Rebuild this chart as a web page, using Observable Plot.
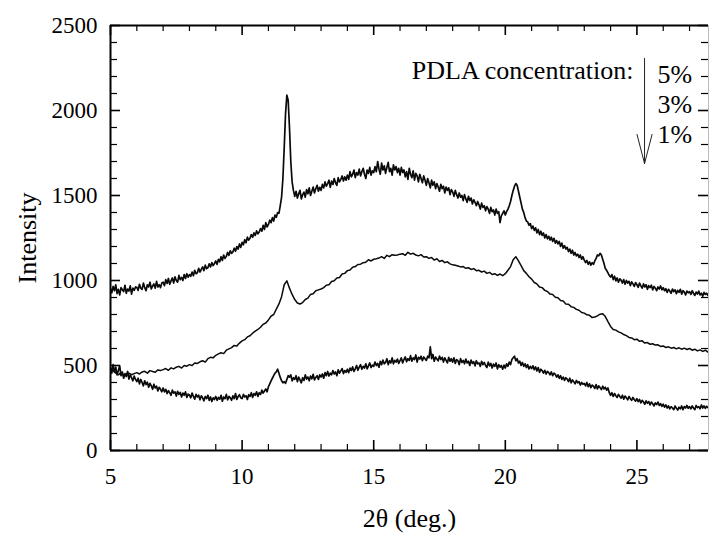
<!DOCTYPE html>
<html>
<head>
<meta charset="utf-8">
<script src="https://cdn.jsdelivr.net/npm/d3@7"></script>
<script src="https://cdn.jsdelivr.net/npm/@observablehq/plot@0.6"></script>
<style>
  html, body { margin: 0; padding: 0; background: #fff; }
  #chart { width: 709px; height: 534px; }
  #chart svg, #chart svg text { font-family: "Liberation Serif", "Times New Roman", "DejaVu Serif", serif !important; }
</style>
</head>
<body>
<div id="chart"></div>
<script>
// 2θ scans start at 5.0°
const scanStart = 5.0;

// PDLA 5% (step 0.05°)
const pdla5 = [
  952, 928, 965, 940, 975, 923, 948, 915, 958, 946, 935, 972, 925, 950, 938, 968, 920, 955, 942, 962,
  960, 942, 978, 955, 948, 985, 958, 940, 975, 962, 990, 950, 968, 980, 955, 995, 962, 975, 958, 985,
  990, 970, 1005, 982, 1012, 978, 998, 1015, 985, 1022, 1000, 990, 1030, 1005, 1018, 1000, 1035, 1012, 1040, 1020,
  1035, 1025, 1050, 1028, 1060, 1040, 1045, 1072, 1050, 1065, 1080, 1058, 1090, 1070, 1075, 1098, 1080, 1105, 1088, 1100,
  1115, 1095, 1125, 1110, 1140, 1118, 1150, 1130, 1142, 1165, 1148, 1175, 1160, 1168, 1190, 1172, 1200, 1185, 1215, 1195,
  1225, 1210, 1240, 1222, 1255, 1238, 1248, 1270, 1255, 1280, 1265, 1292, 1275, 1285, 1305, 1290, 1325, 1300, 1340, 1315,
  1330, 1355, 1340, 1370, 1350, 1385, 1372, 1400, 1395, 1440, 1490, 1600, 1780, 1980, 2090, 2060, 1900, 1700, 1580, 1530,
  1495, 1525, 1485, 1510, 1530, 1480, 1505, 1520, 1490, 1535, 1510, 1545, 1500, 1525, 1550, 1515, 1540, 1560, 1525, 1548,
  1530, 1565, 1545, 1580, 1555, 1570, 1590, 1548, 1585, 1565, 1600, 1575, 1560, 1605, 1580, 1595, 1615, 1585, 1610, 1590,
  1620, 1595, 1640, 1610, 1625, 1650, 1605, 1635, 1620, 1655, 1615, 1640, 1660, 1625, 1600, 1650, 1630, 1665, 1620, 1645,
  1635, 1670, 1640, 1700, 1655, 1625, 1690, 1650, 1675, 1630, 1665, 1695, 1640, 1660, 1620, 1680, 1650, 1670, 1635, 1660,
  1620, 1665, 1635, 1650, 1610, 1640, 1595, 1660, 1625, 1605, 1645, 1590, 1630, 1615, 1580, 1625, 1600, 1575, 1615, 1590,
  1560, 1600, 1575, 1545, 1590, 1560, 1580, 1540, 1570, 1550, 1525, 1565, 1540, 1555, 1515, 1550, 1530, 1545, 1505, 1535,
  1520, 1495, 1530, 1505, 1485, 1515, 1490, 1500, 1470, 1505, 1480, 1460, 1495, 1470, 1485, 1450, 1475, 1460, 1440, 1465,
  1445, 1420, 1455, 1430, 1440, 1410, 1435, 1420, 1395, 1430, 1405, 1415, 1385, 1420, 1395, 1405, 1340, 1380, 1395, 1410,
  1385, 1405, 1420, 1440, 1465, 1500, 1530, 1555, 1570, 1560, 1525, 1490, 1455, 1420, 1400, 1370, 1350, 1345, 1325, 1335,
  1305, 1320, 1295, 1310, 1280, 1300, 1270, 1290, 1265, 1280, 1250, 1270, 1245, 1260, 1238, 1255, 1230, 1248, 1220, 1235,
  1215, 1230, 1200, 1220, 1190, 1205, 1185, 1195, 1170, 1185, 1160, 1178, 1150, 1165, 1145, 1155, 1135, 1150, 1125, 1140,
  1120, 1105, 1118, 1095, 1110, 1090, 1105, 1095, 1115, 1130, 1150, 1145, 1160, 1150, 1125, 1100, 1070, 1060, 1045, 1030,
  1020, 1035, 1005, 1025, 998, 1015, 990, 1010, 1002, 985, 1005, 978, 1000, 985, 995, 970, 992, 980, 965, 988,
  975, 960, 985, 968, 955, 980, 962, 975, 948, 970, 958, 972, 945, 965, 955, 940, 962, 950, 968, 945,
  958, 940, 952, 930, 948, 938, 925, 950, 935, 945, 922, 942, 930, 948, 920, 940, 932, 915, 938, 928,
  935, 918, 940, 925, 912, 932, 920, 938, 915, 925, 908, 930, 918, 925, 912
];

// PDLA 3% (step 0.1°)
const pdla3 = [
  488, 470, 455, 445, 458, 442, 450, 455, 446, 452,
  458, 450, 462, 466, 455, 470, 465, 460, 474, 470,
  476, 482, 472, 486, 480, 490, 495, 485, 500, 496,
  505, 500, 515, 512, 522, 528, 520, 540, 548, 545,
  560, 568, 575, 570, 590, 598, 605, 618, 615, 632,
  645, 652, 668, 675, 690, 702, 712, 725, 742, 750,
  768, 790, 800, 832, 862, 905, 975, 998, 955, 918,
  888, 868, 862, 870, 888, 896, 918, 922, 940, 945,
  950, 958, 972, 975, 994, 998, 1015, 1018, 1038, 1042,
  1058, 1062, 1078, 1082, 1094, 1096, 1105, 1108, 1122, 1115,
  1125, 1128, 1132, 1140, 1130, 1148, 1140, 1152, 1148, 1150,
  1155, 1158, 1148, 1166, 1155, 1160, 1150, 1145, 1152, 1138,
  1140, 1130, 1135, 1120, 1128, 1112, 1118, 1105, 1110, 1098,
  1092, 1090, 1085, 1080, 1082, 1072, 1075, 1065, 1070, 1058,
  1060, 1050, 1055, 1042, 1048, 1035, 1040, 1030, 1038, 1028,
  1040, 1060, 1082, 1122, 1140, 1115, 1088, 1058, 1042, 1022,
  1008, 988, 980, 962, 958, 942, 935, 920, 918, 902,
  898, 882, 880, 862, 860, 846, 842, 830, 825, 812,
  808, 798, 795, 782, 785, 792, 802, 805, 788, 758,
  730, 712, 708, 698, 692, 682, 676, 665, 662, 652,
  655, 642, 645, 632, 635, 625, 628, 620, 622, 612,
  615, 606, 610, 602, 606, 598, 604, 596, 602, 594,
  600, 590, 596, 586, 592, 583, 590, 578
];

// PDLA 1% (step 0.05°)
const pdla1 = [
  480, 455, 505, 462, 490, 445, 470, 498, 440, 462, 425, 452, 435, 465, 420, 445, 428, 410, 438, 418,
  405, 425, 392, 418, 400, 380, 410, 388, 402, 372, 395, 380, 360, 390, 368, 378, 350, 372, 360, 345,
  368, 345, 360, 335, 352, 340, 325, 355, 338, 345, 320, 348, 330, 342, 315, 338, 325, 345, 312, 332,
  325, 310, 338, 318, 302, 330, 315, 325, 298, 322, 310, 292, 318, 305, 325, 295, 315, 288, 310, 300,
  318, 295, 312, 302, 325, 290, 315, 305, 330, 298, 318, 310, 295, 322, 305, 335, 300, 318, 328, 310,
  305, 330, 315, 322, 300, 328, 318, 340, 312, 335, 325, 345, 318, 340, 330, 355, 338, 350, 362, 345,
  375, 392, 410, 425, 440, 455, 462, 478, 455, 430, 410, 398, 405, 395, 418, 440, 432, 445, 410, 428,
  418, 440, 405, 432, 415, 398, 428, 412, 445, 420, 432, 410, 438, 422, 448, 415, 430, 440, 418, 445,
  432, 450, 425, 458, 440, 465, 438, 455, 445, 470, 450, 462, 440, 475, 455, 468, 482, 452, 470, 460,
  478, 458, 485, 470, 492, 465, 480, 500, 472, 490, 505, 478, 495, 485, 510, 480, 498, 515, 488, 502,
  495, 520, 500, 512, 490, 525, 505, 532, 510, 518, 540, 505, 528, 515, 545, 510, 530, 520, 538, 512,
  528, 545, 515, 535, 550, 522, 540, 530, 558, 525, 545, 535, 562, 520, 548, 538, 555, 528, 550, 540,
  530, 555, 545, 610, 540, 565, 525, 550, 538, 528, 555, 535, 548, 520, 545, 530, 515, 548, 525, 540,
  520, 545, 512, 535, 528, 505, 540, 518, 530, 510, 538, 515, 525, 500, 532, 512, 522, 498, 528, 510,
  515, 495, 525, 505, 518, 500, 488, 520, 498, 512, 485, 508, 495, 515, 480, 505, 490, 500, 478, 502,
  485, 510, 495, 520, 505, 535, 545, 555, 528, 540, 515, 525, 500, 518, 495, 510, 488, 505, 480, 495,
  482, 498, 475, 492, 468, 488, 460, 478, 470, 455, 472, 450, 465, 458, 445, 462, 440, 455, 448, 432,
  445, 425, 440, 418, 432, 412, 428, 420, 405, 425, 398, 415, 405, 392, 412, 398, 405, 385, 400, 390,
  395, 380, 400, 375, 392, 370, 385, 378, 365, 388, 362, 380, 370, 358, 378, 362, 372, 355, 368, 340,
  325, 340, 318, 335, 322, 312, 330, 318, 308, 325, 302, 320, 310, 298, 318, 305, 295, 312, 300, 290,
  305, 288, 300, 280, 295, 285, 272, 292, 278, 288, 268, 285, 275, 262, 280, 270, 285, 265, 275, 260,
  272, 255, 268, 250, 262, 245, 258, 250, 240, 262, 248, 238, 255, 245, 262, 240, 258, 250, 265, 248,
  258, 245, 262, 250, 240, 265, 252, 258, 245, 268, 250, 262, 248, 260, 252
];

const xMajor = [5, 10, 15, 20, 25];
const xMinor = [6, 7, 8, 9, 11, 12, 13, 14, 16, 17, 18, 19, 21, 22, 23, 24, 26, 27];
const yMajor = [0, 500, 1000, 1500, 2000, 2500];
const yMinor = [100, 200, 300, 400, 600, 700, 800, 900, 1100, 1200, 1300, 1400,
                1600, 1700, 1800, 1900, 2100, 2200, 2300, 2400];

const legendTitle = ["PDLA concentration:"];
const legendItems = ["5%", "3%", "1%"];
const xLabel = ["2θ (deg.)"];
const yLabel = ["Intensity"];

const seriesList = [
  {name: "5%", step: 0.05, values: pdla5},
  {name: "3%", step: 0.1, values: pdla3},
  {name: "1%", step: 0.05, values: pdla1}
];
const rows = [];
for (const s of seriesList) {
  s.values.forEach((v, i) => rows.push({series: s.name, x: +(scanStart + i * s.step).toFixed(3), y: v}));
}

const xMax = 27.72;
const W = 709, H = 534, mL = 110, mR = 1, mT = 25, mB = 84;
const plotW = W - mL - mR, plotH = H - mT - mB;
const majorLen = 10, minorLen = 6;

const chart = Plot.plot({
  width: W,
  height: H,
  marginLeft: mL,
  marginRight: mR,
  marginTop: mT,
  marginBottom: mB,
  style: {background: "#fff", color: "#000"},
  x: {domain: [5, xMax], axis: null},
  y: {domain: [0, 2500], axis: null},
  marks: [
    // data
    Plot.line(rows.filter(d => d.series !== "3%"), {x: "x", y: "y", z: "series", stroke: "#0a0a0a", strokeWidth: 1.7, clip: true}),
    Plot.line(rows.filter(d => d.series === "3%"), {x: "x", y: "y", stroke: "#0a0a0a", strokeWidth: 1.5, clip: true}),
    // inward ticks: bottom, top, left, right
    Plot.tickX(xMajor, {x: d => d, insetTop: plotH - majorLen, stroke: "#000", strokeWidth: 1.6}),
    Plot.tickX(xMinor, {x: d => d, insetTop: plotH - minorLen, stroke: "#000", strokeWidth: 1.2}),
    Plot.tickX(xMajor, {x: d => d, insetBottom: plotH - majorLen, stroke: "#000", strokeWidth: 1.6}),
    Plot.tickX(xMinor, {x: d => d, insetBottom: plotH - minorLen, stroke: "#000", strokeWidth: 1.2}),
    Plot.tickY(yMajor, {y: d => d, insetRight: plotW - majorLen, stroke: "#000", strokeWidth: 1.6}),
    Plot.tickY(yMinor, {y: d => d, insetRight: plotW - minorLen - 1, stroke: "#000", strokeWidth: 1.2}),
    Plot.tickY(yMajor, {y: d => d, insetLeft: plotW - majorLen, stroke: "#000", strokeWidth: 1.6}),
    Plot.tickY(yMinor, {y: d => d, insetLeft: plotW - minorLen - 1, stroke: "#000", strokeWidth: 1.2}),
    // tick labels
    Plot.axisX(xMajor, {anchor: "bottom", tickSize: 0, tickPadding: 17, fontSize: 23, label: null, tickFormat: d => String(d)}),
    Plot.axisY(yMajor, {anchor: "left", tickSize: 0, tickPadding: 13, fontSize: 23, label: null, tickFormat: d => String(d)}),
    // frame lines
    Plot.ruleY([0, 2500], {stroke: "#000", strokeWidth: 2}),
    Plot.ruleX([5], {stroke: "#000", strokeWidth: 2}),
    Plot.ruleX([xMax], {stroke: "#bbb", strokeWidth: 1}),
    // axis titles
    Plot.text(xLabel, {frameAnchor: "bottom", text: d => d, textAnchor: "middle", lineAnchor: "bottom", dy: 76, fontSize: 26}),
    Plot.text(yLabel, {frameAnchor: "left", text: d => d, textAnchor: "middle", dx: -83, rotate: -90, fontSize: 26}),
    // legend
    Plot.text(legendTitle, {frameAnchor: "top-right", text: d => d, textAnchor: "end", lineAnchor: "bottom", dx: -75, dy: 53, fontSize: 26}),
    ...legendItems.map((t, i) => Plot.text([t], {frameAnchor: "top-right", text: d => d, textAnchor: "start",
      lineAnchor: "bottom", dx: -51, dy: 57 + 30 * i, fontSize: 26})),
    Plot.arrow([legendItems[0]], {x1: 25.29, x2: 25.29, y1: 2306, y2: 1688,
      stroke: "#222", strokeWidth: 1, headAngle: 29, headLength: 45})
  ]
});
document.getElementById("chart").appendChild(chart);
</script>
</body>
</html>
